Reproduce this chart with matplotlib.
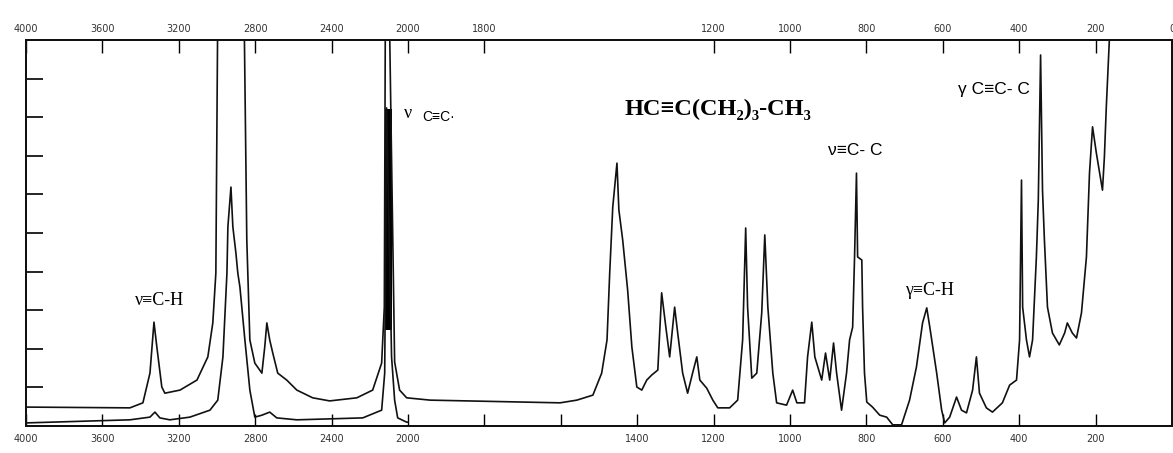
import numpy as np
import matplotlib
matplotlib.use('Agg')
import matplotlib.pyplot as plt

# Raman spectrum of 1-hexyne
# wavenumber (cm-1) / relative intensity (0-100), values > 100 are off scale
upper_wn = [4000, 3456, 3388, 3351, 3330, 3315, 3289, 3273, 3194, 3105, 3048, 3022, 3006,
            2995, 2860, 2844, 2828, 2802, 2765, 2750, 2739, 2724, 2708, 2682, 2635, 2582,
            2499, 2410, 2268, 2185, 2138, 2124, 2118, 2100, 2070, 2044, 2007, 1942,
            1602, 1558, 1516, 1493, 1479, 1472, 1464, 1453, 1448, 1438, 1425, 1414, 1401,
            1388, 1375, 1362, 1346, 1336, 1325, 1315, 1302, 1294, 1281, 1268, 1255, 1244,
            1236, 1218, 1202, 1189, 1158, 1137, 1124, 1116, 1111, 1100, 1087, 1074, 1066,
            1058, 1045, 1035, 1009, 993, 982, 962, 954, 943, 935, 917, 907, 896, 886, 878,
            865, 852, 844, 836, 831, 826, 823, 812, 810, 805, 799, 784, 765, 747, 731, 708,
            687, 669, 653, 642, 634, 616, 603, 595, 582, 564, 551, 538, 522, 512, 504, 486,
            470, 444, 425, 407, 399, 394, 391, 381, 373, 365, 355, 350, 344, 339, 334, 326,
            313, 295, 281, 274, 261, 250, 237, 224, 216, 208, 198, 182, 177, 172, 164, 150]
upper_int = [4.9, 4.7, 6.0, 13.7, 26.9, 20.5, 10.1, 8.5, 9.3, 11.9, 17.9, 26.7, 39.6,
             115, 115, 48.2, 22.3, 16.3, 13.7, 20.5, 26.7, 22.3, 18.9, 13.7, 11.9, 9.3,
             7.3, 6.5, 7.3, 9.3, 16.3, 30.8, 115, 115, 16.6, 9.3, 7.3, 6.7,
             6.0, 6.7, 8.0, 13.7, 22.3, 39.6, 56.7, 68.1, 56.0, 48.2, 35.2, 20.5, 10.1,
             9.3, 11.9, 13.2, 14.5, 34.5, 25.6, 17.9, 30.8, 24.1, 13.7, 8.5, 13.7, 17.9,
             11.9, 9.8, 6.7, 4.7, 4.7, 6.7, 22.3, 51.3, 30.8, 12.4, 13.7, 29.3, 49.5,
             30.8, 13.7, 6.0, 5.4, 9.3, 6.0, 6.0, 17.9, 26.9, 17.9, 11.9, 18.9, 11.9, 21.5, 13.7,
             4.1, 13.7, 22.3, 25.6, 43.8, 65.5, 43.8, 43.0, 30.8, 13.7, 6.2, 4.9, 2.8, 2.3, 0.3, 0.3,
             6.7, 15.3, 26.7, 30.6, 25.6, 13.7, 4.1, 0.8, 2.3, 7.5, 4.1, 3.4, 9.3, 17.9, 8.5, 4.7,
             3.6, 6.0, 10.6, 11.9, 22.3, 63.7, 30.8, 22.3, 17.9, 22.3, 43.8, 58.5, 96.1, 61.1, 48.2, 30.8,
             24.1, 21.0, 24.1, 26.7, 24.1, 22.8, 29.3, 43.8, 65.5, 77.5, 70.7, 61.1, 69.7, 82.6, 100, 115]

lower_wn = [4000, 3456, 3351, 3325, 3299, 3247, 3142, 3037, 2996, 2969, 2948, 2943, 2927,
            2917, 2901, 2891, 2880, 2854, 2828, 2802, 2765, 2724, 2687, 2582, 2237, 2138,
            2122, 2112, 2086, 2070, 2054, 2007, 2000]
lower_int = [0.8, 1.6, 2.3, 3.6, 2.1, 1.6, 2.3, 4.1, 6.7, 17.9, 39.6, 51.6, 61.9,
             51.6, 44.8, 39.6, 36.0, 22.3, 9.3, 2.3, 2.8, 3.6, 2.1, 1.6, 2.1, 4.1,
             13.7, 82.4, 17.9, 6.7, 2.1, 1.0, 1.0]

# dense pen trace around the C≡C stretch
band_wn = [2122, 2082]
band_lo = [25, 25]
band_hi = [82, 82]

bottom_ticks = [4000, 3600, 3200, 2800, 2400, 2000, 1800, 1600, 1400, 1200, 1000, 800, 600, 400, 200]
bottom_labels = ['4000', '3600', '3200', '2800', '2400', '2000', '', '', '1400', '1200', '1000',
                 '800', '600', '400', '200']
top_ticks = [4000, 3600, 3200, 2800, 2400, 2000, 1800, 1200, 1000, 800, 600, 400, 200, 0]
top_labels = ['4000', '3600', '3200', '2800', '2400', '2000', '1800', '1200', '1000', '800',
              '600', '400', '200', '0']


def forward(w):
    # scale halves above 2000 cm-1
    w = np.asarray(w, dtype=float)
    return np.where(w >= 2000, 2000 + (w - 2000) / 2, w)


def inverse(f):
    f = np.asarray(f, dtype=float)
    return np.where(f >= 2000, 2000 + 2 * (f - 2000), f)


fig = plt.figure(figsize=(11.73, 4.53), dpi=100)
ax = fig.add_axes([26 / 1173, 27 / 453, 1146 / 1173, 386 / 453])

ax.set_xscale('function', functions=(forward, inverse))
ax.set_xlim(4000, 0)
ax.set_ylim(0, 100)

ax.plot(upper_wn, upper_int, color='#111111', lw=1.2)
ax.plot(lower_wn, lower_int, color='#111111', lw=1.2)
ax.fill_between(band_wn, band_lo, band_hi, color='black', lw=0)

ax.set_xticks(bottom_ticks)
ax.set_xticklabels(bottom_labels, fontsize=7, color='#333333')
ax.set_yticks(np.arange(0, 101, 10))
ax.set_yticklabels([])
ax.tick_params(axis='x', direction='in', length=9, width=1, pad=6)
ax.tick_params(axis='y', direction='in', length=12, width=1.2)

top = ax.twiny()
top.set_xscale('function', functions=(forward, inverse))
top.set_xlim(4000, 0)
top.set_xticks(top_ticks)
top.set_xticklabels(top_labels, fontsize=7, color='#333333')
top.tick_params(axis='x', direction='in', length=9, width=1, pad=4)

for a in (ax, top):
    for s in a.spines.values():
        s.set_linewidth(1.4)
        s.set_color('#111111')

serif = ['Liberation Serif', 'DejaVu Serif']
sans = ['Liberation Sans', 'DejaVu Sans']
ax.text(3430, 32.6, 'ν≡C-H', fontsize=13, family=serif, ha='left', va='center')
ax.text(2021, 81, 'ν', fontsize=13, family=serif, ha='left', va='center')
ax.text(1962, 80, 'C≡C·', fontsize=10, family=sans, ha='left', va='center')
ax.text(1432, 82, 'HC≡C(CH₂)₃-CH₃', fontsize=17.5, family=serif, weight='bold',
        ha='left', va='center')
ax.text(901, 71.5, 'ν≡C- C', fontsize=12.5, family=sans, ha='left', va='center')
ax.text(700, 35.2, 'γ≡C-H', fontsize=13, family=serif, ha='left', va='center')
ax.text(561, 87.3, 'γ C≡C- C', fontsize=12.5, family=sans, ha='left', va='center')

fig.savefig('out.png', dpi=100)
